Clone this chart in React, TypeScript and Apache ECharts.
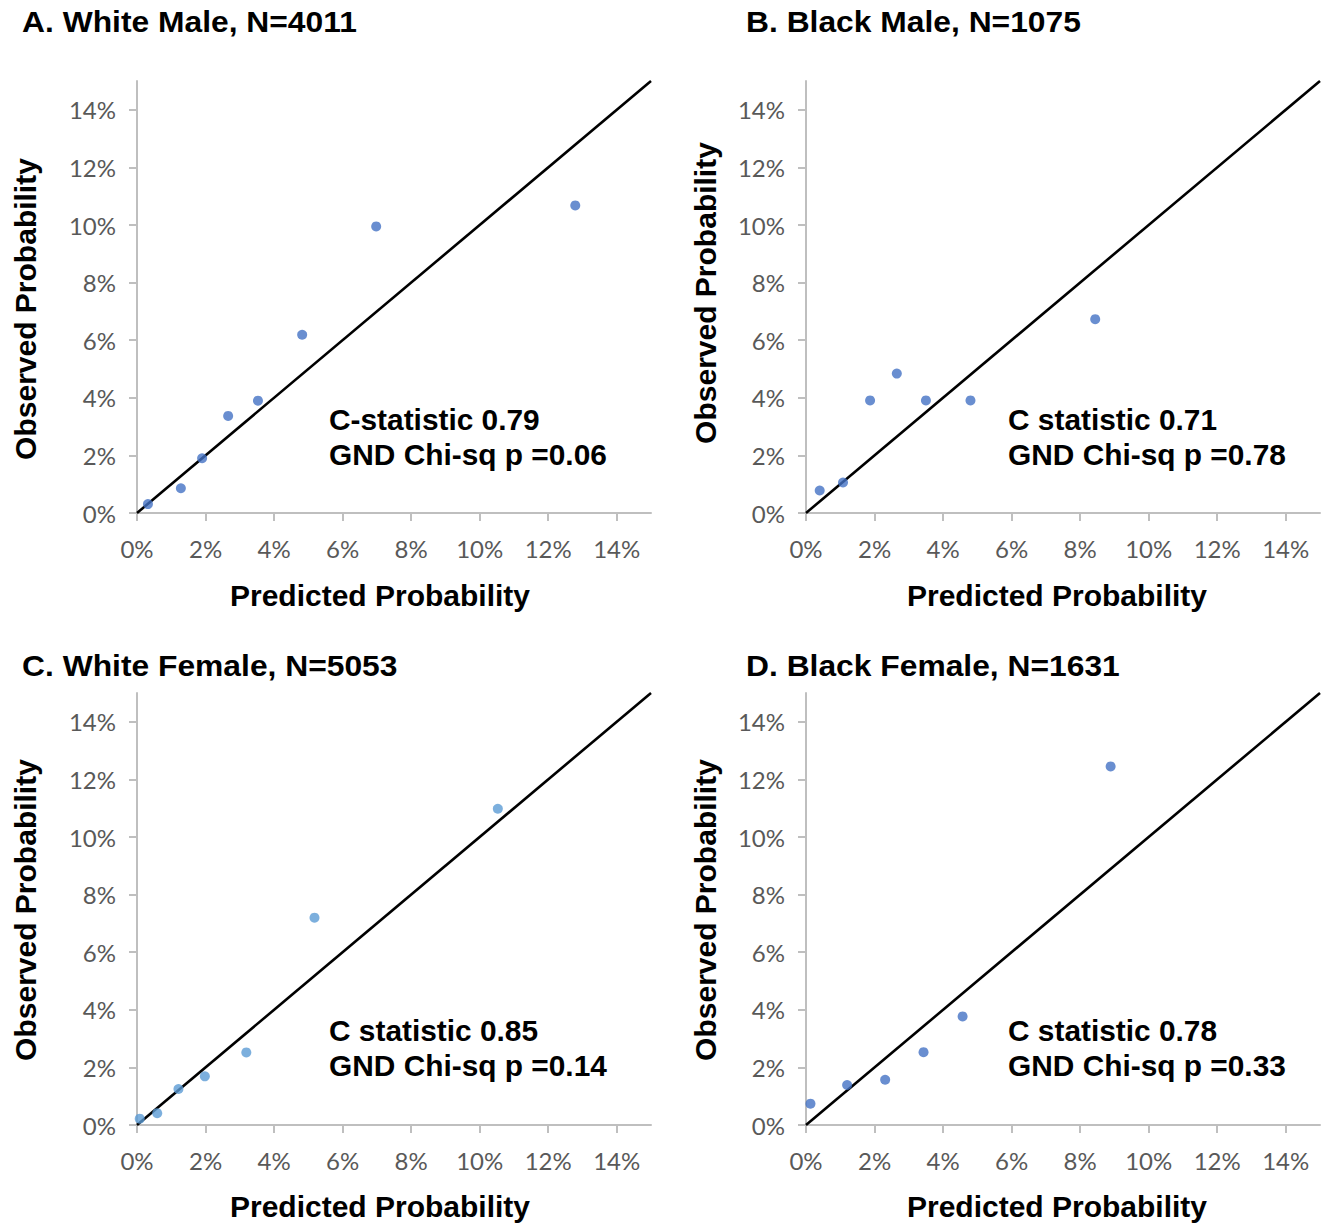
import React, { useEffect, useRef } from "react";
import * as echarts from "echarts";

// Calibration data: predicted vs observed probability (%) per decile group
const whiteMalePredicted = [0.32, 1.28, 1.9, 2.66, 3.53, 4.82, 6.98, 12.79];
const whiteMaleObserved = [0.31, 0.86, 1.9, 3.37, 3.9, 6.19, 9.95, 10.68];

const blackMalePredicted = [0.4, 1.08, 1.87, 2.65, 3.5, 4.8, 8.44];
const blackMaleObserved = [0.78, 1.06, 3.91, 4.84, 3.91, 3.91, 6.73];

const whiteFemalePredicted = [0.08, 0.59, 1.21, 1.98, 3.19, 5.18, 10.53];
const whiteFemaleObserved = [0.22, 0.41, 1.25, 1.69, 2.52, 7.2, 10.98];

const blackFemalePredicted = [0.13, 1.2, 2.31, 3.43, 4.57, 8.89];
const blackFemaleObserved = [0.74, 1.39, 1.57, 2.53, 3.77, 12.45];

const panelTitles = [
  "A. White Male, N=4011",
  "B. Black Male, N=1075",
  "C. White Female, N=5053",
  "D. Black Female, N=1631",
];

const cStatLines = ["C-statistic 0.79", "C statistic 0.71", "C statistic 0.85", "C statistic 0.78"];
const chiSqLines = ["GND Chi-sq p =0.06", "GND Chi-sq p =0.78", "GND Chi-sq p =0.14", "GND Chi-sq p =0.33"];

const tickValues = [0, 2, 4, 6, 8, 10, 12, 14];
const axisMax = 15;
const identityLine = [
  [0, 0],
  [15, 15],
];

const xAxisTitle = "Predicted Probability";
const yAxisTitle = "Observed Probability";

const panelSeries = [
  { predicted: whiteMalePredicted, observed: whiteMaleObserved, color: "#4472C4" },
  { predicted: blackMalePredicted, observed: blackMaleObserved, color: "#4472C4" },
  { predicted: whiteFemalePredicted, observed: whiteFemaleObserved, color: "#5B9BD5" },
  { predicted: blackFemalePredicted, observed: blackFemaleObserved, color: "#4472C4" },
];

// Panel placement on the page
const GRID_W = 514;
const GRID_H = 432;
const layouts = [
  { left: 137, top: 81, titleX: 22, titleY: 22, yNameX: 25, yNameY: 309, xNameX: 380, xNameY: 595, statX: 329, statY: 420 },
  { left: 806, top: 81, titleX: 746, titleY: 22, yNameX: 705, yNameY: 293, xNameX: 1057, xNameY: 595, statX: 1008, statY: 420 },
  { left: 137, top: 693, titleX: 22, titleY: 666, yNameX: 25, yNameY: 910, xNameX: 380, xNameY: 1206, statX: 329, statY: 1031 },
  { left: 806, top: 693, titleX: 746, titleY: 666, yNameX: 705, yNameY: 910, xNameX: 1057, xNameY: 1206, statX: 1008, statY: 1031 },
];

const BOLD_FONT = '"Liberation Sans", Arial, sans-serif';
const TICK_FONT = 'Lato, "Open Sans", sans-serif';
const AXIS_GRAY = "#bfbfbf";

function boldText(text: string, x: number, y: number, size: number, align: string, extra: any = {}) {
  return {
    type: "text",
    x,
    y,
    ...extra,
    style: {
      text,
      fill: "#000",
      fontFamily: BOLD_FONT,
      fontWeight: "bold",
      fontSize: size,
      align,
      verticalAlign: "middle",
    },
  };
}

function buildOption() {
  const grid = layouts.map((l) => ({ left: l.left, top: l.top, width: GRID_W, height: GRID_H }));

  const axisCommon = {
    type: "value",
    min: 0,
    max: axisMax,
    splitLine: { show: false },
    axisLine: { show: true, onZero: false, lineStyle: { color: AXIS_GRAY, width: 2 } },
    axisTick: { show: true, length: 8, customValues: tickValues, lineStyle: { color: AXIS_GRAY, width: 2 } },
  };

  const tickLabel = (margin: number) => ({
    customValues: tickValues,
    formatter: (v: number) => `${v}%`,
    color: "#595959",
    fontFamily: TICK_FONT,
    fontSize: 24,
    margin,
  });

  const xAxis = layouts.map((_, i) => ({ ...axisCommon, gridIndex: i, axisLabel: tickLabel(23) }));
  const yAxis = layouts.map((_, i) => ({ ...axisCommon, gridIndex: i, axisLabel: tickLabel(21) }));

  const series: any[] = [];
  panelSeries.forEach((p, i) => {
    series.push({
      type: "line",
      xAxisIndex: i,
      yAxisIndex: i,
      data: identityLine,
      showSymbol: false,
      symbol: "none",
      lineStyle: { color: "#000000", width: 2.6 },
      silent: true,
      z: 2,
    });
    series.push({
      type: "scatter",
      xAxisIndex: i,
      yAxisIndex: i,
      data: p.predicted.map((x, k) => [x, p.observed[k]]),
      symbolSize: 10,
      itemStyle: { color: p.color },
      z: 3,
    });
  });

  const graphic: any[] = [];
  layouts.forEach((l, i) => {
    graphic.push(boldText(panelTitles[i], l.titleX, l.titleY, 30, "left", { scaleX: 1.06 }));
    graphic.push(boldText(xAxisTitle, l.xNameX, l.xNameY, 30, "center"));
    graphic.push(boldText(yAxisTitle, l.yNameX, l.yNameY, 30, "center", { rotation: Math.PI / 2 }));
    graphic.push(boldText(cStatLines[i], l.statX, l.statY, 29, "left", { scaleX: 1.03 }));
    graphic.push(boldText(chiSqLines[i], l.statX, l.statY + 35, 29, "left", { scaleX: 1.03 }));
  });

  return {
    animation: false,
    backgroundColor: "#ffffff",
    grid,
    xAxis,
    yAxis,
    series,
    graphic,
  };
}

export default function App() {
  const ref = useRef<HTMLDivElement>(null);

  useEffect(() => {
    if (!ref.current) return;
    const chart = echarts.init(ref.current, undefined, { renderer: "svg" });
    chart.setOption(buildOption() as any);
    return () => chart.dispose();
  }, []);

  return (
    <div
      ref={ref}
      style={{ position: "absolute", left: 0, top: 0, width: 1326, height: 1224, background: "#fff" }}
    />
  );
}
